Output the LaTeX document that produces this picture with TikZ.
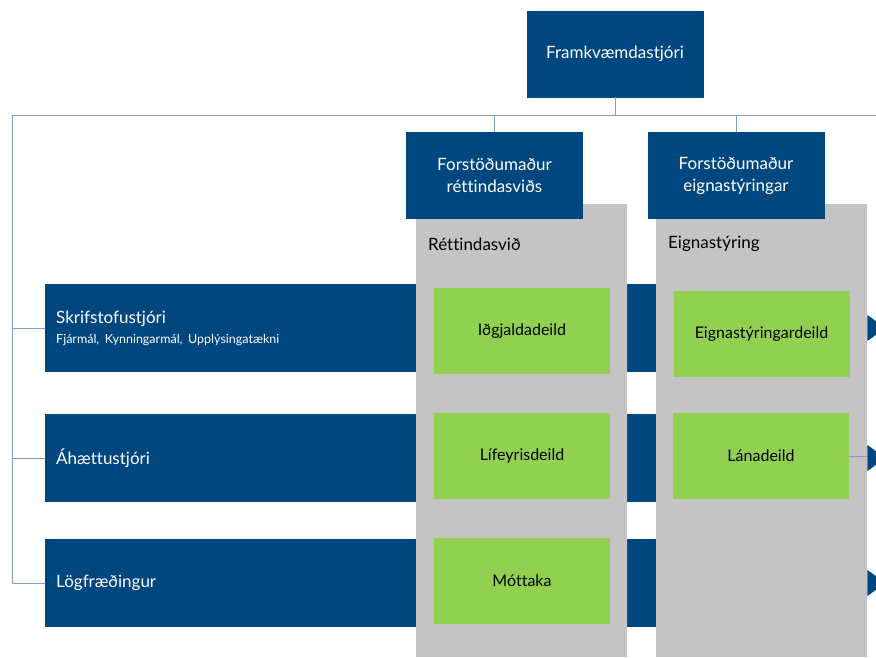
\documentclass[tikz,border=0pt]{standalone}
\usepackage{fontspec}
\setmainfont{Lato}[Ligatures={NoCommon}]
\usetikzlibrary{positioning,calc}
\definecolor{navy}{RGB}{0,70,127}
\definecolor{grey}{RGB}{196,196,196}
\definecolor{leaf}{RGB}{146,208,80}
\definecolor{wire}{RGB}{125,155,205}
\tikzset{
  head/.style={fill=navy,text=white,minimum width=177pt,minimum height=87pt,align=center,font=\fontsize{17}{22}\selectfont,inner sep=0pt},
  bar/.style={fill=navy,text=white,minimum width=822pt,minimum height=88pt,text width=800pt,align=left,inner xsep=11pt,anchor=west,font=\fontsize{17}{20}\selectfont},
  dept/.style={fill=leaf,minimum width=176pt,minimum height=86pt,font=\fontsize{16}{18}\selectfont,inner sep=0pt},
  wired/.style={draw=wire,line width=1pt}
}
\begin{document}
\begin{tikzpicture}[x=1pt,y=-1pt,line join=round,line cap=round]
\useasboundingbox (0,0) rectangle (876,657);
\coordinate (rail) at (12,115);
\coordinate (railend) at (876,115);
% bars behind the columns
\node[bar] (b1) at (45,328) {Skrifstofustjóri\\[0pt]{\fontsize{12.5}{14}\selectfont Fjármál, Kynningarmál, Upplýsingatækni}};
\node[bar] (b2) at (45,458) {Áhættustjóri};
\node[bar] (b3) at (45,583) {Lögfræðingur};
\fill[grey] (416,204) rectangle (627,657) (656,204) rectangle (867,657);
\node[head] (boss) at (615,54) {Framkvæmdastjóri};
\node[head] (hR) at (494.5,175.5) {Forstöðumaður\\réttindasviðs};
\node[head] (hE) at (736,175.5) {Forstöðumaður\\eignastýringar};
\node[anchor=west,inner sep=0pt,font=\fontsize{17}{18}\selectfont] (lR) at (428,244) {Réttindasvið};
\node[anchor=west,inner sep=0pt,font=\fontsize{17}{18}\selectfont] (lE) at (668,244) {Eignastýring};
\node[dept] (ig) at (522,331) {Iðgjaldadeild};
\node[dept] (lif) at (522,456) {Lífeyrisdeild};
\node[dept] (mot) at (522,581) {Móttaka};
\node[dept] (eig) at (761.5,334) {Eignastýringardeild};
\node[dept] (lan) at (761,456) {Lánadeild};
% lines
\draw[wired] (boss.south) -- (boss.south |- rail) (rail) -- (railend);
\draw[wired] (hR.north) -- (hR.north |- rail) (hE.north) -- (hE.north |- rail);
\draw[wired] (rail) |- (b3.west) (rail |- b1.west) -- (b1.west) (rail |- b2.west) -- (b2.west);
\draw[wired] (lan.east) -- (lan.east -| b2.east);
\foreach \b in {b1,b2,b3}{\fill[navy] (\b.east) ++(0,-13) -- ++(18,13) -- ++(-18,13) -- cycle;}
\end{tikzpicture}
\end{document}
